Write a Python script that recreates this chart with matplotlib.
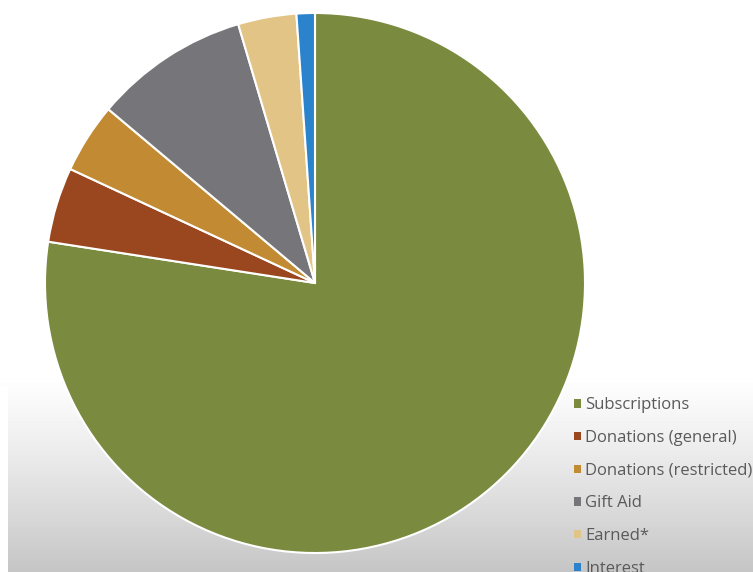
import numpy as np
import matplotlib.pyplot as plt

# income sources, share of total (%)
labels = ["Subscriptions", "Donations (general)", "Donations (restricted)",
          "Gift Aid", "Earned*", "Interest"]
shares = [77.6, 4.5, 4.2, 9.3, 3.5, 1.1]
colors = ["#7a8a3e", "#9a471f", "#c28b33", "#76757a", "#e2c486", "#2b83cc"]

W, H = 753, 572
fig = plt.figure(figsize=(W / 100, H / 100), dpi=100)

# background: white fading to light grey towards the bottom (video frame)
bg = fig.add_axes([0, 0, 1, 1], zorder=0)
rows = np.arange(H)
shade = np.clip((rows - 370) / (H - 370), 0, 1) ** 1.2
col = 255 - shade * 58
img = np.repeat(col[:, None], W, axis=1)
img[:, :8] = np.where(rows[:, None] > 385, 255, img[:, :8])
bg.imshow(img, cmap="gray", vmin=0, vmax=255, aspect="auto",
          extent=[0, W, H, 0], interpolation="bilinear")
bg.set_xlim(0, W)
bg.set_ylim(H, 0)
bg.axis("off")

# pie
cx, cy, r = 315, 283, 270
ax = fig.add_axes([(cx - r) / W, (H - cy - r) / H, 2 * r / W, 2 * r / H], zorder=1)
wedges, _ = ax.pie(shares, colors=colors, startangle=90, counterclock=False,
                   radius=1, wedgeprops=dict(edgecolor="white", linewidth=1.5))
ax.set_xlim(-1, 1)
ax.set_ylim(-1, 1)
ax.set_aspect("auto")
ax.axis("off")

leg = fig.legend(wedges, labels, loc="upper left",
                 bbox_to_anchor=(566 / W, (H - 389) / H),
                 frameon=False, handlelength=0.4, handleheight=0.4,
                 handletextpad=0.25, labelspacing=1.0, borderpad=0,
                 prop={"family": "Open Sans", "size": 12})
for t in leg.get_texts():
    t.set_color("#5a5a5a")
for h in leg.legend_handles:
    h.set_edgecolor("none")

fig.savefig("out.png", dpi=100)
